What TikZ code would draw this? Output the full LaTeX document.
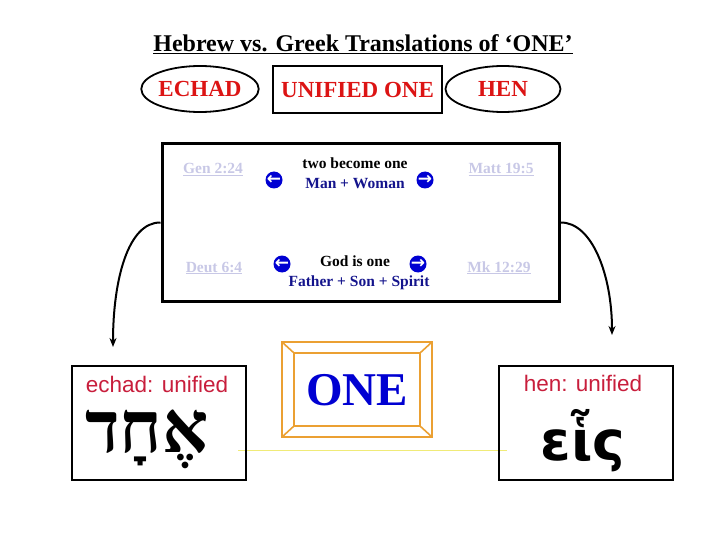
\documentclass[tikz,border=0pt]{standalone}
\usepackage{fontspec}
\setmainfont{Liberation Serif}
\newfontfamily\sansfont{Liberation Sans}
\newfontfamily\hebrewfont[Script=Hebrew]{Liberation Serif}
\newfontfamily\greekfont[Script=Greek]{DejaVu Sans}
\newfontfamily\symfont{DejaVu Sans}
\TeXXeTstate=1
\usetikzlibrary{shapes.geometric,arrows.meta}
\definecolor{headred}{RGB}{220,20,20}
\definecolor{refgrey}{RGB}{200,200,230}
\definecolor{navy}{RGB}{20,20,140}
\definecolor{iconblue}{RGB}{0,0,210}
\definecolor{wordred}{RGB}{200,30,60}
\definecolor{frameorange}{RGB}{235,160,50}
\definecolor{lineyellow}{RGB}{240,235,120}
\tikzset{
  heading/.style={font=\fontsize{23}{25}\selectfont\bfseries, text=headred, line width=1.8pt, inner sep=0pt},
  verse/.style={font=\fontsize{15.5}{17}\selectfont\bfseries, text=refgrey, anchor=base},
  phrase/.style={font=\fontsize{15.5}{17}\selectfont\bfseries, anchor=base},
  icon/.style={circle, fill=iconblue, inner sep=0pt, minimum size=17pt, text=white,
    font=\symfont\bfseries\fontsize{17}{17}\selectfont},
  wordbox/.style={draw, line width=2pt, minimum width=174pt, minimum height=114pt},
  gloss/.style={font=\sansfont\fontsize{22.5}{24}\selectfont, text=wordred, anchor=base},
  curvearrow/.style={line width=2pt, -{Stealth[length=9pt,width=7pt]}},
}
\begin{document}
\begin{tikzpicture}[x=1pt,y=-1pt]
  \useasboundingbox (0,0) rectangle (720,540);

  % title and headings
  \node[font=\fontsize{24}{26}\selectfont\bfseries] (title) at (363,44)
    {\underline{Hebrew vs. Greek Translations of ‘ONE’}};
  \node[heading, draw, ellipse, minimum width=117pt, minimum height=46pt] (echad) at (200,89) {ECHAD};
  \node[heading, draw, rectangle, minimum width=169pt, minimum height=47pt] (unified) at (357.5,89.5) {UNIFIED ONE};
  \node[heading, draw, ellipse, minimum width=115pt, minimum height=46pt] (hen) at (503,89) {HEN};

  % verses box
  \node[draw, line width=3pt, minimum width=397pt, minimum height=157pt] (verses) at (360.5,222.5) {};
  \node[verse] (gen) at (213,174) {\underline{Gen 2:24}};
  \node[verse] (matt) at (501,174) {\underline{Matt 19:5}};
  \node[verse] (deut) at (214,272) {\underline{Deut 6:4}};
  \node[verse] (mk) at (499,272) {\underline{Mk 12:29}};
  \node[phrase] (two) at (355,169) {two become one};
  \node[phrase, text=navy] (manwoman) at (355,189) {Man + Woman};
  \node[phrase] (god) at (355,266) {God is one};
  \node[phrase, text=navy] (trinity) at (359,286) {Father + Son + Spirit};
  \node[icon] (twoL) at (274,180) {←};
  \node[icon] (twoR) at (425,180) {→};
  \node[icon] (godL) at (282,264) {←};
  \node[icon] (godR) at (418,264) {→};

  % word boxes
  \draw[lineyellow, line width=1pt] (238,450) -- (507,450);
  \node[wordbox] (echadbox) at (159,423) {};
  \node[gloss] (echadgloss) at (157,392) {echad: unified};
  \node[anchor=base, font=\hebrewfont\bfseries\fontsize{72}{72}\selectfont] (echadword) at (147,452)
    {\beginR אֶחָד\endR};
  \node[wordbox] (henbox) at (585.5,423) {};
  \node[gloss] (hengloss) at (583,391) {hen: unified};
  \node[anchor=base, font=\greekfont\bfseries\fontsize{55}{55}\selectfont] (henword) at (583,460) {εἷς};

  \coordinate (echadtip) at (113,347);
  \coordinate (hentip) at (612,335);
  \draw[curvearrow] (verses.west) .. controls (128,222) and (113,280) .. (echadtip);
  \draw[curvearrow] (verses.east) .. controls (592,222) and (612,275) .. (hentip);

  % ONE frame
  \draw[frameorange, line width=1.6pt] (282,342) rectangle (432,437);
  \draw[frameorange, line width=1.6pt] (294,353) rectangle (420,426);
  \draw[frameorange, line width=1.6pt] (282,342) -- (294,353) (432,342) -- (420,353)
    (282,437) -- (294,426) (432,437) -- (420,426);
  \node[font=\fontsize{47}{47}\selectfont\bfseries, text=iconblue] (one) at (357,390) {ONE};
\end{tikzpicture}
\end{document}
